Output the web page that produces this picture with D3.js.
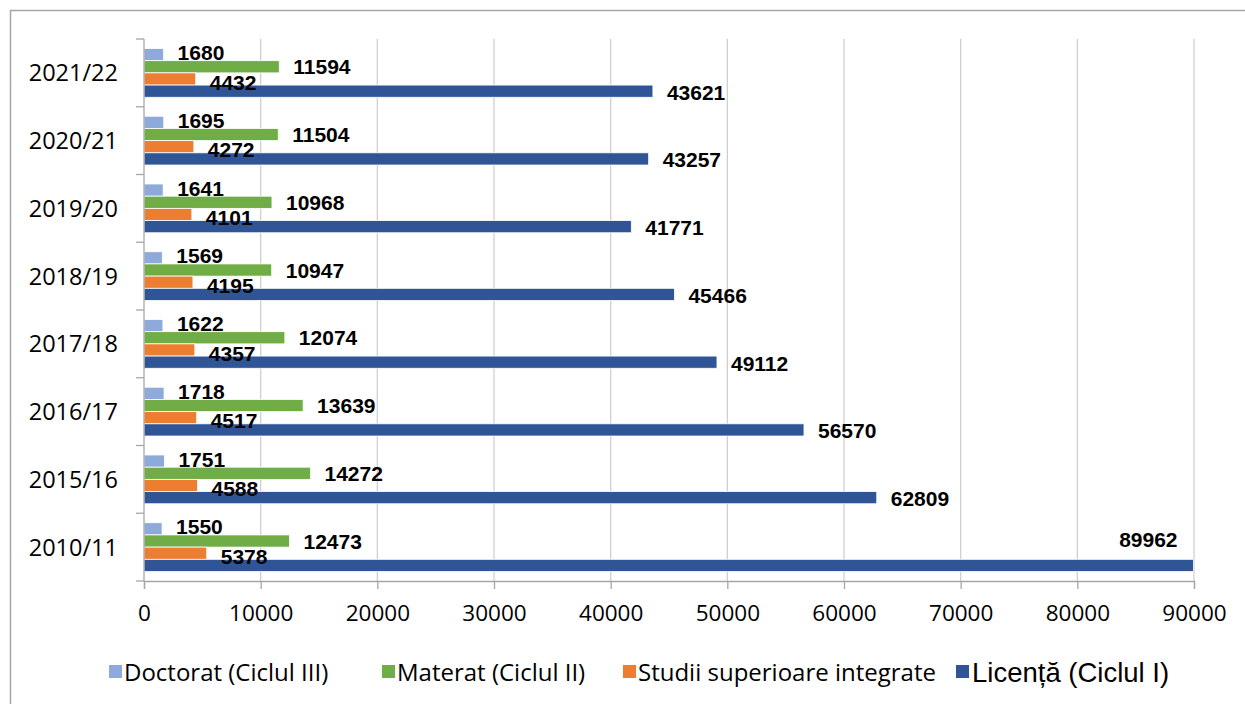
<!DOCTYPE html>
<html>
<head>
<meta charset="utf-8">
<script src="https://cdn.jsdelivr.net/npm/d3@7"></script>
<style>
  body { margin: 0; background: #fff; }
  svg { display: block; }
</style>
</head>
<body>
<svg id="chart" width="1245" height="704"></svg>
<script>
// years, top to bottom as drawn
const years = ["2021/22", "2020/21", "2019/20", "2018/19", "2017/18", "2016/17", "2015/16", "2010/11"];
const seriesNames = ["Doctorat (Ciclul III)", "Materat (Ciclul II)", "Studii superioare integrate", "Licență (Ciclul I)"];
const doctorat = [1680, 1695, 1641, 1569, 1622, 1718, 1751, 1550];
const materat = [11594, 11504, 10968, 10947, 12074, 13639, 14272, 12473];
const integrate = [4432, 4272, 4101, 4195, 4357, 4517, 4588, 5378];
const licenta = [43621, 43257, 41771, 45466, 49112, 56570, 62809, 89962];
const xTicks = [0, 10000, 20000, 30000, 40000, 50000, 60000, 70000, 80000, 90000];

const colors = ["#8eaadb", "#70ad47", "#ed7d31", "#2f5597"];
const allSeries = [doctorat, materat, integrate, licenta];

const svg = d3.select("#chart");
const plotLeft = 144, plotRight = 1194, plotTop = 39, plotBottom = 581;

// outer frame
svg.append("rect").attr("x", 10.5).attr("y", 10.5).attr("width", 1250).attr("height", 720)
  .attr("fill", "none").attr("stroke", "#a6a6a6").attr("stroke-width", 1.5);

var x = d3.scaleLinear().domain([0, 90000]).range([plotLeft, plotRight]);
var y = d3.scaleBand().domain(years).range([plotTop, plotBottom]).paddingInner(0.28).paddingOuter(0.14);
var ySub = d3.scaleBand().domain(d3.range(4)).range([0, y.bandwidth()]);

// gridlines
svg.append("g").selectAll("line").data(xTicks.slice(1)).join("line")
  .attr("x1", d => x(d)).attr("x2", d => x(d)).attr("y1", plotTop).attr("y2", plotBottom)
  .attr("stroke", "#d0d0d0").attr("stroke-width", 1.3);

// rows of data per year
const rows = years.map((yr, i) => ({ year: yr, values: allSeries.map((s, k) => ({ k: k, v: s[i] })) }));

const groups = svg.append("g").selectAll("g").data(rows).join("g")
  .attr("transform", d => `translate(0,${y(d.year)})`);

groups.selectAll("rect").data(d => d.values).join("rect")
  .attr("x", x(0))
  .attr("y", d => ySub(d.k))
  .attr("width", d => x(d.v) - x(0))
  .attr("height", ySub.bandwidth())
  .attr("fill", d => colors[d.k])
  .attr("stroke", "#fff").attr("stroke-width", 0.8);

// value labels
const labelDy = [-2, 0, 3, 1];
const overflow = d => x(d.v) + 30 > plotRight;
groups.selectAll("text").data(d => d.values).join("text")
  .attr("x", d => overflow(d) ? x(d.v) - 16 : x(d.v) + 14)
  .attr("y", d => overflow(d) ? ySub(d.k) - 20 : ySub(d.k) + ySub.bandwidth() / 2 + labelDy[d.k])
  .attr("dy", "0.36em")
  .attr("text-anchor", d => overflow(d) ? "end" : "start")
  .style("font-family", "'Liberation Sans', Arial, sans-serif")
  .style("font-weight", "bold")
  .style("font-size", "21px")
  .attr("fill", "#000")
  .text(d => d.v);

// x axis
const xAxis = svg.append("g").attr("transform", `translate(0,${plotBottom})`)
  .call(d3.axisBottom(x).tickValues(xTicks).tickSize(8).tickPadding(16).tickFormat(d3.format("d")));
xAxis.select(".domain").attr("stroke", "#a6a6a6").attr("stroke-width", 1.3);
xAxis.selectAll(".tick line").attr("stroke", "#a6a6a6").attr("stroke-width", 1.3);
xAxis.selectAll("text").style("font-family", "'Open Sans', sans-serif").style("font-size", "22.5px").attr("fill", "#000");

// y axis line and category ticks
svg.append("line").attr("x1", plotLeft).attr("x2", plotLeft).attr("y1", plotTop).attr("y2", plotBottom)
  .attr("stroke", "#a6a6a6").attr("stroke-width", 1.3);
const step = y.step();
svg.append("g").selectAll("line").data(d3.range(years.length + 1)).join("line")
  .attr("x1", plotLeft - 8).attr("x2", plotLeft)
  .attr("y1", i => plotTop + i * step).attr("y2", i => plotTop + i * step)
  .attr("stroke", "#a6a6a6").attr("stroke-width", 1.3);
svg.append("g").selectAll("text").data(years).join("text")
  .attr("x", 118)
  .attr("y", d => y(d) + y.bandwidth() / 2)
  .attr("dy", "0.36em")
  .attr("text-anchor", "end")
  .style("font-family", "'Open Sans', sans-serif").style("font-size", "23.5px")
  .attr("fill", "#000")
  .text(d => d);

// legend
const legendX = [109, 382, 623, 956];
const legend = svg.append("g").selectAll("g").data(seriesNames).join("g")
  .attr("transform", (d, i) => `translate(${legendX[i]},665)`);
legend.append("rect").attr("width", 13).attr("height", 13).attr("fill", (d, i) => colors[i]);
legend.append("text")
  .attr("x", (d, i) => i === 3 ? 16 : 15)
  .attr("y", 7).attr("dy", "0.36em")
  .style("font-family", (d, i) => i === 3 ? "'Liberation Sans', Arial, sans-serif" : "'Open Sans', sans-serif")
  .style("font-size", (d, i) => i === 3 ? "27.5px" : "24px")
  .attr("fill", "#000")
  .text(d => d);
</script>
</body>
</html>
